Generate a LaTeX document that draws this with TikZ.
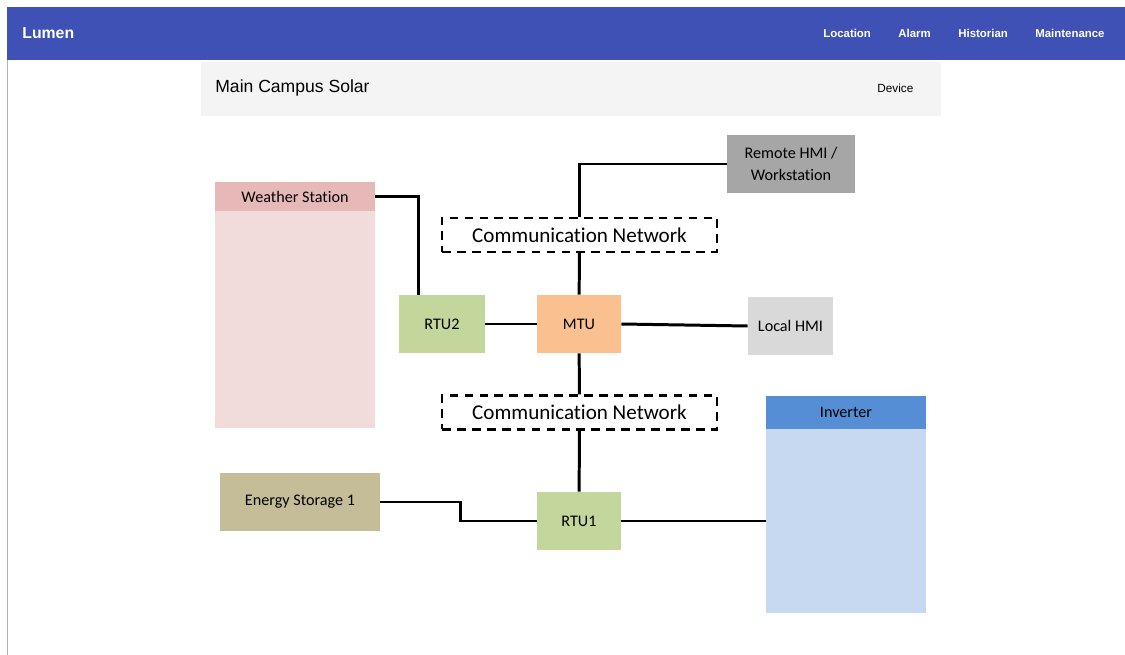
\documentclass[tikz,border=0pt]{standalone}
\usepackage{fontspec}
\setmainfont{Carlito}[Ligatures={NoCommon,NoRare}]
\newfontfamily\uifont{Liberation Sans}
\usetikzlibrary{positioning}
\newdimen\pxu \pxu=0.2mm
\definecolor{barblue}{HTML}{3F51B5}
\definecolor{panelgray}{HTML}{F4F4F4}
\definecolor{wshead}{HTML}{E6B9B8}
\definecolor{wsbody}{HTML}{F2DCDB}
\definecolor{remotegray}{HTML}{A6A6A6}
\definecolor{localgray}{HTML}{D9D9D9}
\definecolor{rtugreen}{HTML}{C3D69B}
\definecolor{mtuorange}{HTML}{FAC090}
\definecolor{invhead}{HTML}{558ED5}
\definecolor{invbody}{HTML}{C6D9F1}
\definecolor{storetan}{HTML}{C4BD97}
\begin{document}
\begin{tikzpicture}[x=0.02cm, y=-0.02cm]

\tikzstyle{block} = [rectangle, inner sep=0pt, align=center, font=\fontsize{9.2}{12.5}\selectfont]
\tikzstyle{net} = [block, draw, line width=1.4pt, dash pattern=on 5pt off 3.5pt, minimum width=275\pxu, minimum height=34\pxu, font=\fontsize{12}{14}\selectfont]
\tikzstyle{wire} = [line width=1.7pt]
\tikzstyle{menu} = [anchor=west, inner sep=0pt, text=white, font=\uifont\fontsize{6.5}{8}\selectfont\bfseries]

\useasboundingbox (0,0) rectangle (1125,655);
\fill[barblue] (7,7) rectangle (1125,60);
\draw[gray!60, line width=0.5pt] (7,60) -- (7,655);
\fill[panelgray] (201,62) rectangle (941,116);

\node[menu, font=\uifont\fontsize{9}{11}\selectfont\bfseries] (brand) at (22,33) {Lumen};
\node[menu] (loc) at (823,33) {Location};
\node[menu] (alarm) at (898,33) {Alarm};
\node[menu] (hist) at (958,33) {Historian};
\node[menu] (maint) at (1035,33) {Maintenance};
\node[menu, text=black, font=\uifont\fontsize{10}{12}\selectfont] (site) at (215,88) {Main Campus Solar};
\node[menu, text=black, font=\uifont\fontsize{6.7}{8}\selectfont] (dev) at (877,88) {Device};

\node[block, fill=wsbody, minimum width=160\pxu, minimum height=217\pxu] (wsb) at (295,319.5) {};
\node[block, fill=wshead, minimum width=160\pxu, minimum height=29\pxu] (ws) at (295,196.5) {Weather Station};
\node[block, fill=remotegray, minimum width=128\pxu, minimum height=58\pxu] (rhmi) at (791,164) {Remote HMI /\\Workstation};
\node[net] (cn1) at (579.5,235) {Communication Network};
\node[block, fill=rtugreen, minimum width=86\pxu, minimum height=58\pxu] (rtu2) at (442,324) {RTU2};
\node[block, fill=mtuorange, minimum width=84\pxu, minimum height=58\pxu] (mtu) at (579,324) {MTU};
\node[block, fill=localgray, minimum width=85\pxu, minimum height=58\pxu] (lhmi) at (790.5,326) {Local HMI};
\node[net] (cn2) at (579.5,412.5) {Communication Network};
\node[block, fill=invbody, minimum width=160\pxu, minimum height=184\pxu] (invb) at (846,521) {};
\node[block, fill=invhead, minimum width=160\pxu, minimum height=33\pxu] (inv) at (846,412.5) {Inverter};
\node[block, fill=storetan, minimum width=160\pxu, minimum height=58\pxu] (es) at (300,502) {Energy Storage 1};
\node[block, fill=rtugreen, minimum width=84\pxu, minimum height=58\pxu] (rtu1) at (579,521) {RTU1};

\coordinate (bend) at (460,502);

\draw[wire] (ws.east) -| ([xshift=20\pxu]rtu2.north west);
\draw[wire] (rhmi.west) -| (cn1.north);
\draw[wire] (cn1) -- (mtu);
\draw[wire] (rtu2) -- (mtu);
\draw[wire] (mtu.east) -- (lhmi.west);
\draw[wire] (mtu) -- (cn2);
\draw[wire] (cn2) -- (rtu1);
\draw[wire] (es.east) -- (bend) |- (rtu1.west);
\draw[wire] (rtu1.east) -- (rtu1.east -| invb.west);

\end{tikzpicture}
\end{document}
